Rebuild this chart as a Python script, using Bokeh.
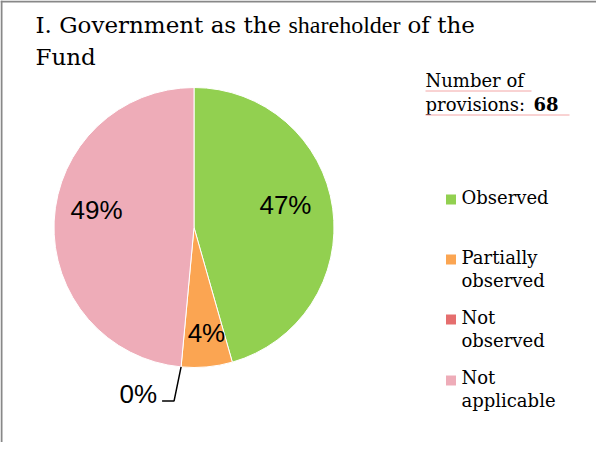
import math
from bokeh.plotting import figure
from bokeh.models import Range1d, Span, ColumnDataSource
from bokeh.core.properties import value
from bokeh.embed import file_html
from bokeh.resources import INLINE

# ---------------- data ----------------
categories = ["Observed", "Partially observed", "Not observed", "Not applicable"]
legend_lines = [["Observed"], ["Partially", "observed"], ["Not", "observed"], ["Not", "applicable"]]
counts = [31, 4, 0, 33]
pct_labels = ["47%", "4%", "0%", "49%"]
colors = ["#92D050", "#FBA552", "#E56E6E", "#EEACB8"]
title_parts = ["I. Government as the", "shareholder", "of the"]
title_line2 = "Fund"
provisions_text = ["Number of", "provisions: "]
provisions_total = "68"

# ---------------- layout ----------------
W, H = 596, 442
SERIF = "DejaVu Serif"
SANS = "Liberation Sans"
TEXT_DY = 8.5  # correction of rendered text baseline


def X(sx):  # page pixel -> data
    return sx - 8


def Y(sy):
    return H + 8 - sy


def TY(sy):  # text baseline page pixel -> data
    return Y(sy) + TEXT_DY


p = figure(width=W, height=H, x_range=Range1d(0, W), y_range=Range1d(0, H),
           output_backend="svg", toolbar_location=None, min_border=0,
           x_axis_location=None, y_axis_location=None,
           outline_line_color=None, background_fill_color="white",
           border_fill_color="white")
p.xgrid.visible = False
p.ygrid.visible = False

# frame borders (left and top visible in reference)
p.add_layout(Span(location=1, dimension="height", line_color="#888888", line_width=2))
p.add_layout(Span(location=H - 1, dimension="width", line_color="#888888", line_width=2))

# ---------------- pie ----------------
CX, CY, R = X(201.5), Y(235), 140
total = sum(counts)
starts, ends, mids = [], [], []
cum = 0.0
for c in counts:
    a0 = math.pi / 2 - 2 * math.pi * cum / total
    cum += c
    a1 = math.pi / 2 - 2 * math.pi * cum / total
    starts.append(a1)
    ends.append(a0)
    mids.append((a0 + a1) / 2)

keep = [i for i, c in enumerate(counts) if c > 0]
src = ColumnDataSource(dict(
    start=[starts[i] for i in keep],
    end=[ends[i] for i in keep],
    color=[colors[i] for i in keep],
))
p.wedge(x=CX, y=CY, radius=R, start_angle="start", end_angle="end",
        fill_color="color", line_color="white", line_width=1, source=src)

# data labels
LABEL_R = 98
NUDGE = [(-5.6, 9.5), (3.4, -7.4), (0, 0), (0.4, 13.6)]
LBL_SIZE = 26
base_shift = 0.358 * LBL_SIZE
lx, ly, lt = [], [], []
for i, c in enumerate(counts):
    if c == 0:
        continue
    x = CX + LABEL_R * math.cos(mids[i]) + NUDGE[i][0]
    y = CY + LABEL_R * math.sin(mids[i]) + NUDGE[i][1]
    lx.append(x)
    ly.append(y - base_shift + TEXT_DY)
    lt.append(pct_labels[i])
p.text(x=lx, y=ly, text=lt, text_font=value(SANS), text_font_size=f"{LBL_SIZE}px",
       text_color="black", text_align="center", text_baseline="alphabetic")

# zero slice label with leader line
for i, c in enumerate(counts):
    if c != 0:
        continue
    ang = starts[i]
    ex, ey = CX + R * math.cos(ang), CY + R * math.sin(ang)
    bx, by = ex - 7, ey - 34
    hx = bx - 12
    p.line(x=[ex, bx, hx], y=[ey, by, by], line_color="black", line_width=1.5)
    p.text(x=[hx - 5], y=[by - 1.5 + TEXT_DY], text=[pct_labels[i]], text_font=value(SANS),
           text_font_size=f"{LBL_SIZE}px", text_color="black",
           text_align="right", text_baseline="alphabetic")

# ---------------- title ----------------
p.text(x=[X(43)], y=[TY(41)], text=[title_parts[0]], text_font=value(SERIF),
       text_font_size="23px", text_color="black", text_baseline="alphabetic")
p.text(x=[X(296)], y=[TY(41)], text=[title_parts[1]], text_font=value("Liberation Serif"),
       text_font_size="24px", text_color="black", text_baseline="alphabetic")
p.text(x=[X(415)], y=[TY(41)], text=[title_parts[2]], text_font=value(SERIF),
       text_font_size="23px", text_color="black", text_baseline="alphabetic")
p.text(x=[X(43)], y=[TY(73)], text=[title_line2], text_font=value(SERIF),
       text_font_size="23px", text_color="black", text_baseline="alphabetic")

# ---------------- number of provisions ----------------
p.text(x=[X(433), X(433)], y=[TY(96), TY(120)], text=provisions_text,
       text_font=value(SERIF), text_font_size="18px", text_color="black",
       text_baseline="alphabetic")
p.text(x=[X(541)], y=[TY(120)], text=[provisions_total], text_font=value(SERIF),
       text_font_size="18px", text_font_style="bold", text_color="black",
       text_baseline="alphabetic")
p.segment(x0=[X(433), X(433)], y0=[Y(98.5), Y(122.5)], x1=[X(539), X(577)],
          y1=[Y(98.5), Y(122.5)], line_color="#F3A6A6", line_width=1)

# ---------------- legend ----------------
LEG_X = 458.5
LEG_SQ_Y = [207, 267, 327, 388]
LEG_BASE = [213.5, 273, 333, 393]
LINE_H = 23.5
p.scatter(x=[X(LEG_X)] * len(categories), y=[Y(v) for v in LEG_SQ_Y], marker="square",
          size=10, fill_color=colors, line_color=None)
tx, ty, tt = [], [], []
for i, lines in enumerate(legend_lines):
    for k, ln in enumerate(lines):
        tx.append(X(469))
        ty.append(TY(LEG_BASE[i] + k * LINE_H))
        tt.append(ln)
p.text(x=tx, y=ty, text=tt, text_font=value(SERIF), text_font_size="18px",
       text_color="black", text_baseline="alphabetic")

open("out.html", "w").write(file_html(p, INLINE))
